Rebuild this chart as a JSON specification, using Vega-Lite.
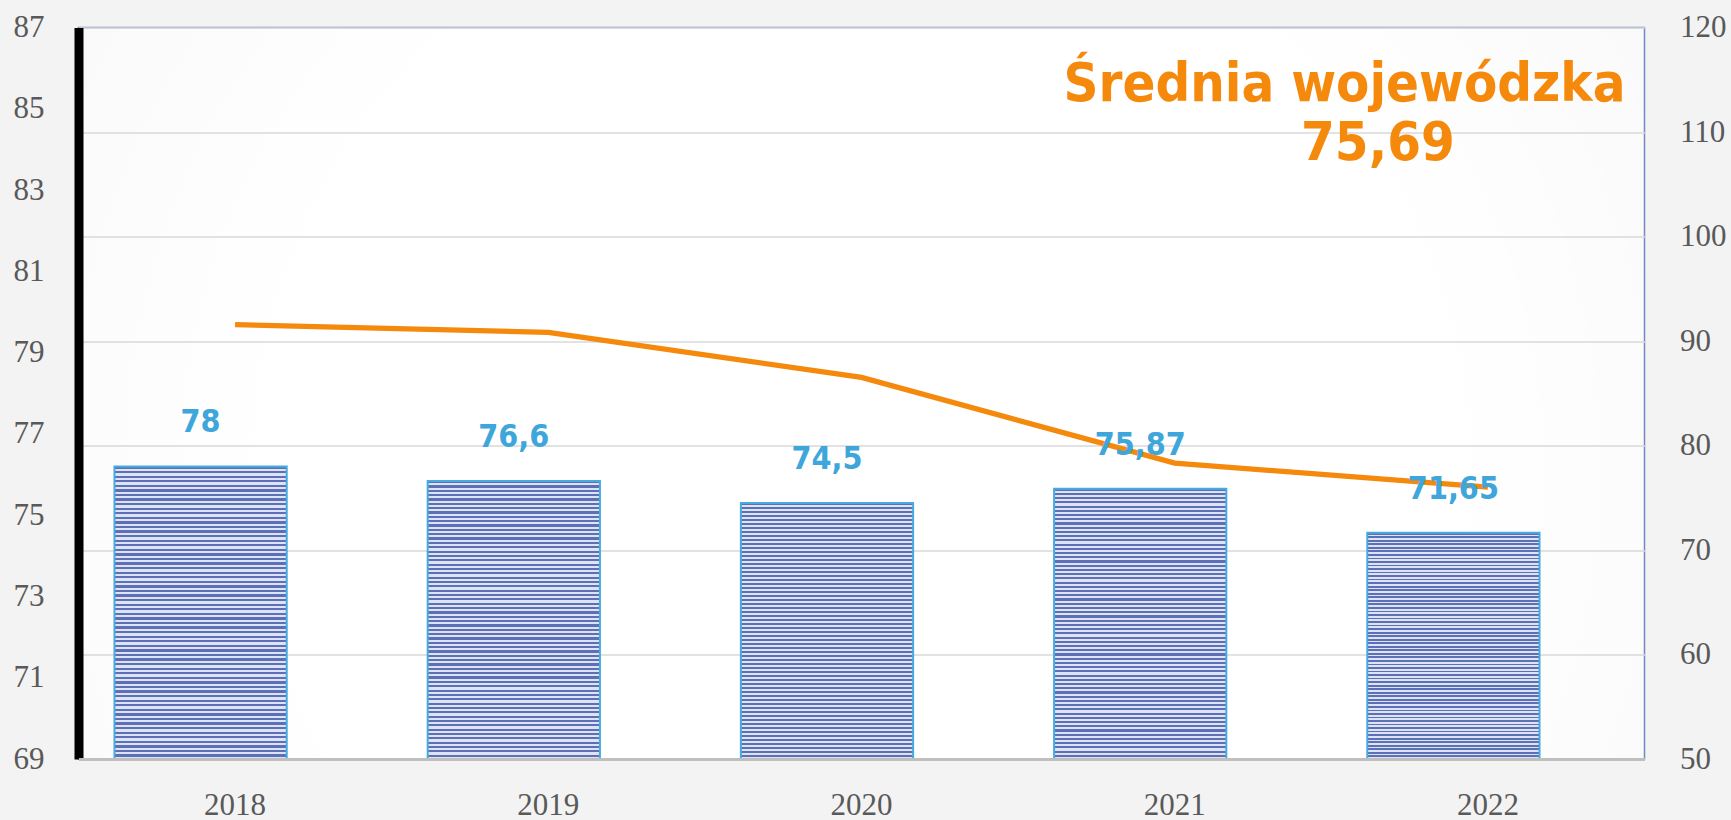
{
"$schema":"https://vega.github.io/schema/vega-lite/v6.json",
"width":1566,"height":731.5,
"autosize":{"type":"none"},
"padding":{"left":78.5,"top":27.5,"right":87,"bottom":61},
"background":"#F3F3F3",
"config":{
"locale":{"number":{"decimal":",","thousands":"\u00a0","grouping":[3],"currency":[""," zł"]}},
"view":{"stroke":"#7486C4","strokeWidth":1.5,"fill":{"gradient":"radial","x1":0.5,"y1":0.55,"x2":0.5,"y2":0.55,"r1":0,"r2":0.75,"stops":[{"offset":0,"color":"#FFFFFF"},{"offset":0.5,"color":"#FFFFFF"},{"offset":1,"color":"#F5F5F5"}]}},
"axis":{"labelFont":"Liberation Serif","labelFontSize":31,"labelColor":"#595959","ticks":false,"tickSize":0,"title":null}
},
"title":{"text":"Średnia wojewódzka","anchor":"end","align":"center","frame":"group","dx":-300,"offset":-143,"font":"DejaVu Sans Condensed","fontSize":54,"fontWeight":"bold","color":"#F5890C","baseline":"alphabetic"},
"data":{"values":[
{"rok":"2018","wynik":78,"srednia":79.69},
{"rok":"2019","wynik":76.6,"srednia":79.5},
{"rok":"2020","wynik":74.5,"srednia":78.39},
{"rok":"2021","wynik":75.87,"srednia":76.28},
{"rok":"2022","wynik":71.65,"srednia":75.69}
]},
"encoding":{"x":{"field":"rok","type":"ordinal","scale":{"paddingInner":0,"paddingOuter":0},"axis":{"labelAngle":0,"domainColor":"#BFBFBF","domainWidth":3,"labelPadding":31,"zindex":1,"grid":false}}},
"layer":[
{"mark":{"type":"bar","stroke":"#47ABE0","strokeWidth":2,"width":{"band":0.55},"xOffset":-34.5,
"fill":{"gradient":"linear","x1":0,"y1":0,"x2":0,"y2":1,"stops":[
{"offset":0,"color":"#5C70B7"},
{"offset":0.0078,"color":"#5C70B7"},{"offset":0.0078,"color":"#DDE3F3"},
{"offset":0.0156,"color":"#DDE3F3"},{"offset":0.0156,"color":"#5C70B7"},
{"offset":0.0234,"color":"#5C70B7"},{"offset":0.0234,"color":"#DDE3F3"},
{"offset":0.0313,"color":"#DDE3F3"},{"offset":0.0313,"color":"#5C70B7"},
{"offset":0.0391,"color":"#5C70B7"},{"offset":0.0391,"color":"#DDE3F3"},
{"offset":0.0469,"color":"#DDE3F3"},{"offset":0.0469,"color":"#5C70B7"},
{"offset":0.0547,"color":"#5C70B7"},{"offset":0.0547,"color":"#DDE3F3"},
{"offset":0.0625,"color":"#DDE3F3"},{"offset":0.0625,"color":"#5C70B7"},
{"offset":0.0703,"color":"#5C70B7"},{"offset":0.0703,"color":"#DDE3F3"},
{"offset":0.0781,"color":"#DDE3F3"},{"offset":0.0781,"color":"#5C70B7"},
{"offset":0.0859,"color":"#5C70B7"},{"offset":0.0859,"color":"#DDE3F3"},
{"offset":0.0938,"color":"#DDE3F3"},{"offset":0.0938,"color":"#5C70B7"},
{"offset":0.1016,"color":"#5C70B7"},{"offset":0.1016,"color":"#DDE3F3"},
{"offset":0.1094,"color":"#DDE3F3"},{"offset":0.1094,"color":"#5C70B7"},
{"offset":0.1172,"color":"#5C70B7"},{"offset":0.1172,"color":"#DDE3F3"},
{"offset":0.125,"color":"#DDE3F3"},{"offset":0.125,"color":"#5C70B7"},
{"offset":0.1328,"color":"#5C70B7"},{"offset":0.1328,"color":"#DDE3F3"},
{"offset":0.1406,"color":"#DDE3F3"},{"offset":0.1406,"color":"#5C70B7"},
{"offset":0.1484,"color":"#5C70B7"},{"offset":0.1484,"color":"#DDE3F3"},
{"offset":0.1563,"color":"#DDE3F3"},{"offset":0.1563,"color":"#5C70B7"},
{"offset":0.1641,"color":"#5C70B7"},{"offset":0.1641,"color":"#DDE3F3"},
{"offset":0.1719,"color":"#DDE3F3"},{"offset":0.1719,"color":"#5C70B7"},
{"offset":0.1797,"color":"#5C70B7"},{"offset":0.1797,"color":"#DDE3F3"},
{"offset":0.1875,"color":"#DDE3F3"},{"offset":0.1875,"color":"#5C70B7"},
{"offset":0.1953,"color":"#5C70B7"},{"offset":0.1953,"color":"#DDE3F3"},
{"offset":0.2031,"color":"#DDE3F3"},{"offset":0.2031,"color":"#5C70B7"},
{"offset":0.2109,"color":"#5C70B7"},{"offset":0.2109,"color":"#DDE3F3"},
{"offset":0.2188,"color":"#DDE3F3"},{"offset":0.2188,"color":"#5C70B7"},
{"offset":0.2266,"color":"#5C70B7"},{"offset":0.2266,"color":"#DDE3F3"},
{"offset":0.2344,"color":"#DDE3F3"},{"offset":0.2344,"color":"#5C70B7"},
{"offset":0.2422,"color":"#5C70B7"},{"offset":0.2422,"color":"#DDE3F3"},
{"offset":0.25,"color":"#DDE3F3"},{"offset":0.25,"color":"#5C70B7"},
{"offset":0.2578,"color":"#5C70B7"},{"offset":0.2578,"color":"#DDE3F3"},
{"offset":0.2656,"color":"#DDE3F3"},{"offset":0.2656,"color":"#5C70B7"},
{"offset":0.2734,"color":"#5C70B7"},{"offset":0.2734,"color":"#DDE3F3"},
{"offset":0.2813,"color":"#DDE3F3"},{"offset":0.2813,"color":"#5C70B7"},
{"offset":0.2891,"color":"#5C70B7"},{"offset":0.2891,"color":"#DDE3F3"},
{"offset":0.2969,"color":"#DDE3F3"},{"offset":0.2969,"color":"#5C70B7"},
{"offset":0.3047,"color":"#5C70B7"},{"offset":0.3047,"color":"#DDE3F3"},
{"offset":0.3125,"color":"#DDE3F3"},{"offset":0.3125,"color":"#5C70B7"},
{"offset":0.3203,"color":"#5C70B7"},{"offset":0.3203,"color":"#DDE3F3"},
{"offset":0.3281,"color":"#DDE3F3"},{"offset":0.3281,"color":"#5C70B7"},
{"offset":0.3359,"color":"#5C70B7"},{"offset":0.3359,"color":"#DDE3F3"},
{"offset":0.3438,"color":"#DDE3F3"},{"offset":0.3438,"color":"#5C70B7"},
{"offset":0.3516,"color":"#5C70B7"},{"offset":0.3516,"color":"#DDE3F3"},
{"offset":0.3594,"color":"#DDE3F3"},{"offset":0.3594,"color":"#5C70B7"},
{"offset":0.3672,"color":"#5C70B7"},{"offset":0.3672,"color":"#DDE3F3"},
{"offset":0.375,"color":"#DDE3F3"},{"offset":0.375,"color":"#5C70B7"},
{"offset":0.3828,"color":"#5C70B7"},{"offset":0.3828,"color":"#DDE3F3"},
{"offset":0.3906,"color":"#DDE3F3"},{"offset":0.3906,"color":"#5C70B7"},
{"offset":0.3984,"color":"#5C70B7"},{"offset":0.3984,"color":"#DDE3F3"},
{"offset":0.4063,"color":"#DDE3F3"},{"offset":0.4063,"color":"#5C70B7"},
{"offset":0.4141,"color":"#5C70B7"},{"offset":0.4141,"color":"#DDE3F3"},
{"offset":0.4219,"color":"#DDE3F3"},{"offset":0.4219,"color":"#5C70B7"},
{"offset":0.4297,"color":"#5C70B7"},{"offset":0.4297,"color":"#DDE3F3"},
{"offset":0.4375,"color":"#DDE3F3"},{"offset":0.4375,"color":"#5C70B7"},
{"offset":0.4453,"color":"#5C70B7"},{"offset":0.4453,"color":"#DDE3F3"},
{"offset":0.4531,"color":"#DDE3F3"},{"offset":0.4531,"color":"#5C70B7"},
{"offset":0.4609,"color":"#5C70B7"},{"offset":0.4609,"color":"#DDE3F3"},
{"offset":0.4688,"color":"#DDE3F3"},{"offset":0.4688,"color":"#5C70B7"},
{"offset":0.4766,"color":"#5C70B7"},{"offset":0.4766,"color":"#DDE3F3"},
{"offset":0.4844,"color":"#DDE3F3"},{"offset":0.4844,"color":"#5C70B7"},
{"offset":0.4922,"color":"#5C70B7"},{"offset":0.4922,"color":"#DDE3F3"},
{"offset":0.5,"color":"#DDE3F3"},{"offset":0.5,"color":"#5C70B7"},
{"offset":0.5078,"color":"#5C70B7"},{"offset":0.5078,"color":"#DDE3F3"},
{"offset":0.5156,"color":"#DDE3F3"},{"offset":0.5156,"color":"#5C70B7"},
{"offset":0.5234,"color":"#5C70B7"},{"offset":0.5234,"color":"#DDE3F3"},
{"offset":0.5313,"color":"#DDE3F3"},{"offset":0.5313,"color":"#5C70B7"},
{"offset":0.5391,"color":"#5C70B7"},{"offset":0.5391,"color":"#DDE3F3"},
{"offset":0.5469,"color":"#DDE3F3"},{"offset":0.5469,"color":"#5C70B7"},
{"offset":0.5547,"color":"#5C70B7"},{"offset":0.5547,"color":"#DDE3F3"},
{"offset":0.5625,"color":"#DDE3F3"},{"offset":0.5625,"color":"#5C70B7"},
{"offset":0.5703,"color":"#5C70B7"},{"offset":0.5703,"color":"#DDE3F3"},
{"offset":0.5781,"color":"#DDE3F3"},{"offset":0.5781,"color":"#5C70B7"},
{"offset":0.5859,"color":"#5C70B7"},{"offset":0.5859,"color":"#DDE3F3"},
{"offset":0.5938,"color":"#DDE3F3"},{"offset":0.5938,"color":"#5C70B7"},
{"offset":0.6016,"color":"#5C70B7"},{"offset":0.6016,"color":"#DDE3F3"},
{"offset":0.6094,"color":"#DDE3F3"},{"offset":0.6094,"color":"#5C70B7"},
{"offset":0.6172,"color":"#5C70B7"},{"offset":0.6172,"color":"#DDE3F3"},
{"offset":0.625,"color":"#DDE3F3"},{"offset":0.625,"color":"#5C70B7"},
{"offset":0.6328,"color":"#5C70B7"},{"offset":0.6328,"color":"#DDE3F3"},
{"offset":0.6406,"color":"#DDE3F3"},{"offset":0.6406,"color":"#5C70B7"},
{"offset":0.6484,"color":"#5C70B7"},{"offset":0.6484,"color":"#DDE3F3"},
{"offset":0.6563,"color":"#DDE3F3"},{"offset":0.6563,"color":"#5C70B7"},
{"offset":0.6641,"color":"#5C70B7"},{"offset":0.6641,"color":"#DDE3F3"},
{"offset":0.6719,"color":"#DDE3F3"},{"offset":0.6719,"color":"#5C70B7"},
{"offset":0.6797,"color":"#5C70B7"},{"offset":0.6797,"color":"#DDE3F3"},
{"offset":0.6875,"color":"#DDE3F3"},{"offset":0.6875,"color":"#5C70B7"},
{"offset":0.6953,"color":"#5C70B7"},{"offset":0.6953,"color":"#DDE3F3"},
{"offset":0.7031,"color":"#DDE3F3"},{"offset":0.7031,"color":"#5C70B7"},
{"offset":0.7109,"color":"#5C70B7"},{"offset":0.7109,"color":"#DDE3F3"},
{"offset":0.7188,"color":"#DDE3F3"},{"offset":0.7188,"color":"#5C70B7"},
{"offset":0.7266,"color":"#5C70B7"},{"offset":0.7266,"color":"#DDE3F3"},
{"offset":0.7344,"color":"#DDE3F3"},{"offset":0.7344,"color":"#5C70B7"},
{"offset":0.7422,"color":"#5C70B7"},{"offset":0.7422,"color":"#DDE3F3"},
{"offset":0.75,"color":"#DDE3F3"},{"offset":0.75,"color":"#5C70B7"},
{"offset":0.7578,"color":"#5C70B7"},{"offset":0.7578,"color":"#DDE3F3"},
{"offset":0.7656,"color":"#DDE3F3"},{"offset":0.7656,"color":"#5C70B7"},
{"offset":0.7734,"color":"#5C70B7"},{"offset":0.7734,"color":"#DDE3F3"},
{"offset":0.7813,"color":"#DDE3F3"},{"offset":0.7813,"color":"#5C70B7"},
{"offset":0.7891,"color":"#5C70B7"},{"offset":0.7891,"color":"#DDE3F3"},
{"offset":0.7969,"color":"#DDE3F3"},{"offset":0.7969,"color":"#5C70B7"},
{"offset":0.8047,"color":"#5C70B7"},{"offset":0.8047,"color":"#DDE3F3"},
{"offset":0.8125,"color":"#DDE3F3"},{"offset":0.8125,"color":"#5C70B7"},
{"offset":0.8203,"color":"#5C70B7"},{"offset":0.8203,"color":"#DDE3F3"},
{"offset":0.8281,"color":"#DDE3F3"},{"offset":0.8281,"color":"#5C70B7"},
{"offset":0.8359,"color":"#5C70B7"},{"offset":0.8359,"color":"#DDE3F3"},
{"offset":0.8438,"color":"#DDE3F3"},{"offset":0.8438,"color":"#5C70B7"},
{"offset":0.8516,"color":"#5C70B7"},{"offset":0.8516,"color":"#DDE3F3"},
{"offset":0.8594,"color":"#DDE3F3"},{"offset":0.8594,"color":"#5C70B7"},
{"offset":0.8672,"color":"#5C70B7"},{"offset":0.8672,"color":"#DDE3F3"},
{"offset":0.875,"color":"#DDE3F3"},{"offset":0.875,"color":"#5C70B7"},
{"offset":0.8828,"color":"#5C70B7"},{"offset":0.8828,"color":"#DDE3F3"},
{"offset":0.8906,"color":"#DDE3F3"},{"offset":0.8906,"color":"#5C70B7"},
{"offset":0.8984,"color":"#5C70B7"},{"offset":0.8984,"color":"#DDE3F3"},
{"offset":0.9063,"color":"#DDE3F3"},{"offset":0.9063,"color":"#5C70B7"},
{"offset":0.9141,"color":"#5C70B7"},{"offset":0.9141,"color":"#DDE3F3"},
{"offset":0.9219,"color":"#DDE3F3"},{"offset":0.9219,"color":"#5C70B7"},
{"offset":0.9297,"color":"#5C70B7"},{"offset":0.9297,"color":"#DDE3F3"},
{"offset":0.9375,"color":"#DDE3F3"},{"offset":0.9375,"color":"#5C70B7"},
{"offset":0.9453,"color":"#5C70B7"},{"offset":0.9453,"color":"#DDE3F3"},
{"offset":0.9531,"color":"#DDE3F3"},{"offset":0.9531,"color":"#5C70B7"},
{"offset":0.9609,"color":"#5C70B7"},{"offset":0.9609,"color":"#DDE3F3"},
{"offset":0.9688,"color":"#DDE3F3"},{"offset":0.9688,"color":"#5C70B7"},
{"offset":0.9766,"color":"#5C70B7"},{"offset":0.9766,"color":"#DDE3F3"},
{"offset":0.9844,"color":"#DDE3F3"},{"offset":0.9844,"color":"#5C70B7"},
{"offset":0.9922,"color":"#5C70B7"},{"offset":0.9922,"color":"#DDE3F3"},
{"offset":1,"color":"#DDE3F3"}
]}},
"encoding":{
"y":{"field":"wynik","type":"quantitative","scale":{"domain":[50,120],"zero":false,"nice":false},"axis":{"orient":"right","values":[50,60,70,80,90,100,110,120],"grid":true,"gridColor":"#D9D9D9","gridWidth":1.5,"domain":false,"labelPadding":35,"labelAlign":"left","labelBaseline":"middle","zindex":0}},
"y2":{"datum":50}
}},
{"mark":{"type":"line","color":"#F5890C","strokeWidth":5.3},
"encoding":{
"y":{"field":"srednia","type":"quantitative","scale":{"domain":[69,87],"zero":false,"nice":false},"axis":{"orient":"left","values":[69,71,73,75,77,79,81,83,85,87],"grid":false,"domainColor":"#000000","domainWidth":9,"labelPadding":34.5,"labelAlign":"right","labelBaseline":"middle"}}
}},
{"mark":{"type":"text","font":"DejaVu Sans Condensed","fontWeight":"bold","fontSize":32,"color":"#3EA6DB","baseline":"alphabetic","dy":-34,"xOffset":-34.5},
"encoding":{
"y":{"field":"wynik","type":"quantitative","scale":{"domain":[50,120],"zero":false,"nice":false},"axis":null},
"text":{"field":"wynik","type":"quantitative","format":"~f"}
}},
{"transform":[{"filter":"datum.rok == '2022'"}],
"mark":{"type":"text","font":"DejaVu Sans Condensed","fontWeight":"bold","fontSize":54,"color":"#F5890C","baseline":"alphabetic","align":"center","dx":-110,"dy":-327},
"encoding":{
"y":{"field":"srednia","type":"quantitative","scale":{"domain":[69,87],"zero":false,"nice":false},"axis":null},
"text":{"field":"srednia","type":"quantitative","format":"~f"}
}}
],
"resolve":{"scale":{"y":"independent"}}
}
